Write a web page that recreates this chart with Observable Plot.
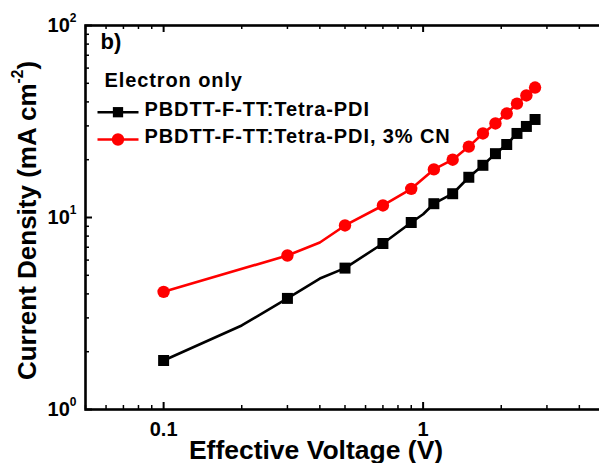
<!DOCTYPE html>
<html><head><meta charset="utf-8">
<script src="https://cdn.jsdelivr.net/npm/d3@7"></script>
<script src="https://cdn.jsdelivr.net/npm/@observablehq/plot@0.6"></script>
<style>html,body{margin:0;padding:0;background:#fff;overflow:hidden}</style>
</head><body><div id="chart"></div>
<script>
// ---- data ----
const seriesNames = ["PBDTT-F-TT:Tetra-PDI", "PBDTT-F-TT:Tetra-PDI, 3% CN"];
const seriesColors = ["#000000", "#ff0000"];
const blackV = [0.1, 0.2, 0.3, 0.4, 0.5, 0.7, 0.9, 1.0, 1.1, 1.3, 1.5, 1.7, 1.9, 2.1, 2.3, 2.5, 2.7];
const blackJ = [1.80, 2.74, 3.79, 4.81, 5.45, 7.32, 9.42, 10.4, 11.8, 13.3, 16.2, 18.7, 21.5, 24.0, 27.4, 29.8, 32.4];
const redV = [0.1, 0.3, 0.4, 0.5, 0.7, 0.9, 1.1, 1.3, 1.5, 1.7, 1.9, 2.1, 2.3, 2.5, 2.7];
const redJ = [4.1, 6.34, 7.41, 9.09, 11.55, 14.1, 17.8, 20.0, 23.4, 27.4, 30.9, 34.8, 39.2, 43.2, 47.5];
const xMajorTicks = [0.1, 1];
const xTickLabels = ["0.1", "1"];
const xMinorTicks = [0.05, 0.06, 0.07, 0.08, 0.09, 0.2, 0.3, 0.4, 0.5, 0.6, 0.7, 0.8, 0.9, 2, 3, 4, 5];
const yMajorTicks = [1, 10, 100];
const yTickLabels = ["10^0", "10^1", "10^2"];
const yMinorTicks = [2, 3, 4, 5, 6, 7, 8, 9, 20, 30, 40, 50, 60, 70, 80, 90];
const xLabel = "Effective Voltage (V)";
const yLabel = "Current Density (mA cm^-2)";
const panelLabel = "b)";
const legendTitle = "Electron only";

// ---- layout ----
const W = 599, H = 463, mL = 85, mT = 25, mB = 54, mR = -5;
const plotH = H - mT - mB, plotW = W - mL - mR;
const FONT = "'Liberation Sans', Arial, Helvetica, sans-serif";

const rows = [
  ...blackV.map((v, i) => ({v, j: blackJ[i], s: seriesNames[0]})),
  ...redV.map((v, i) => ({v, j: redJ[i], s: seriesNames[1]}))
];
const isMarked = d => Math.round(d.v * 10) % 2 === 1;
const lineSymbol = {draw(ctx) { ctx.moveTo(-20.5, 0); ctx.lineTo(20.5, 0); }};
const legendRowsDy = [86.7, 114];

const svg = Plot.plot({
  width: W, height: H,
  marginLeft: mL, marginTop: mT, marginBottom: mB, marginRight: mR,
  style: {fontFamily: FONT, fontWeight: "bold", background: "#fff", color: "#000", overflow: "hidden"},
  x: {type: "log", domain: [0.05, 5], axis: null},
  y: {type: "log", domain: [1, 100], axis: null},
  color: {domain: seriesNames, range: seriesColors},
  marks: [
    // data
    Plot.line(rows, {x: "v", y: "j", z: "s", stroke: "s", strokeWidth: 2.6, curve: "linear", strokeLinejoin: "round"}),
    Plot.dot(rows.filter(d => d.s === seriesNames[0] && isMarked(d)), {x: "v", y: "j", symbol: "square", r: 6.2, fill: "s", stroke: null}),
    Plot.dot(rows.filter(d => d.s === seriesNames[1] && isMarked(d)), {x: "v", y: "j", symbol: "circle", r: 6.2, fill: "s", stroke: null}),
    // inward ticks: bottom & top
    Plot.tickX(xMinorTicks, {x: d => d, insetTop: plotH - 4, stroke: "#000", strokeWidth: 1.5}),
    Plot.tickX(xMajorTicks, {x: d => d, insetTop: plotH - 7, stroke: "#000", strokeWidth: 2}),
    Plot.tickX(xMinorTicks, {x: d => d, insetBottom: plotH - 4, stroke: "#000", strokeWidth: 1.5}),
    Plot.tickX(xMajorTicks, {x: d => d, insetBottom: plotH - 7, stroke: "#000", strokeWidth: 2}),
    // inward ticks: left
    Plot.tickY(yMinorTicks, {y: d => d, insetRight: plotW - 4, stroke: "#000", strokeWidth: 1.5}),
    Plot.tickY(yMajorTicks, {y: d => d, insetRight: plotW - 7, stroke: "#000", strokeWidth: 2}),
    Plot.frame({stroke: "#000", strokeWidth: 2.6}),
    // tick labels
    Plot.axisX({ticks: xMajorTicks, tickSize: 0, tickPadding: 12, fontSize: 20, label: null,
      tickFormat: d => xTickLabels[xMajorTicks.indexOf(d)]}),
    Plot.axisY({ticks: yMajorTicks, tickSize: 0, tickPadding: 9, fontSize: 20, label: null,
      tickFormat: d => yTickLabels[yMajorTicks.indexOf(d)]}),
    // axis titles
    Plot.text([xLabel], {text: d => d, frameAnchor: "bottom", textAnchor: "middle", lineAnchor: "top", dx: -29, dy: 31, fontSize: 26.5, fontWeight: "bold"}),
    Plot.text([yLabel], {text: d => d, frameAnchor: "left", textAnchor: "middle", rotate: -90, lineAnchor: "middle", dx: -57.5, dy: 3, fontSize: 26, fontWeight: "bold"}),
    // panel label & legend
    Plot.text([panelLabel], {text: d => d, frameAnchor: "top-left", textAnchor: "start", lineAnchor: "middle", dx: 15, dy: 16.5, fontSize: 22, fontWeight: "bold"}),
    Plot.text([legendTitle], {text: d => d, frameAnchor: "top-left", textAnchor: "start", lineAnchor: "middle", dx: 19, dy: 54.7, fontSize: 20, fontWeight: "bold", className: "legend-text"}),
    Plot.dot([seriesNames[0]], {frameAnchor: "top-left", dx: 32.5, dy: legendRowsDy[0], symbol: lineSymbol, stroke: d => d, strokeWidth: 2.6, fill: "none"}),
    Plot.dot([seriesNames[0]], {frameAnchor: "top-left", dx: 32.5, dy: legendRowsDy[0], symbol: "square", r: 5.8, fill: d => d, stroke: null}),
    Plot.dot([seriesNames[1]], {frameAnchor: "top-left", dx: 32.5, dy: legendRowsDy[1], symbol: lineSymbol, stroke: d => d, strokeWidth: 2.6, fill: "none"}),
    Plot.dot([seriesNames[1]], {frameAnchor: "top-left", dx: 32.5, dy: legendRowsDy[1], symbol: "circle", r: 6.2, fill: d => d, stroke: null}),
    Plot.text([seriesNames[0]], {text: d => d, frameAnchor: "top-left", textAnchor: "start", lineAnchor: "middle", dx: 59, dy: legendRowsDy[0] - 3, fontSize: 20, fontWeight: "bold", className: "legend-text"}),
    Plot.text([seriesNames[1]], {text: d => d, frameAnchor: "top-left", textAnchor: "start", lineAnchor: "middle", dx: 59, dy: legendRowsDy[1] - 3, fontSize: 20, fontWeight: "bold", className: "legend-text"})
  ]
});

document.getElementById("chart").appendChild(svg);

// slightly wider legend lettering, as in the reference
d3.select(svg).selectAll("g.legend-text text, .legend-text text").attr("letter-spacing", "0.9").style("letter-spacing", "0.9px");

// superscripts: "a^b" -> a<sup>b</sup>
d3.select(svg).selectAll("text").each(function() {
  const t = this.textContent;
  const m = t.match(/^(.*)\^(-?\d+)(.*)$/);
  if (!m) return;
  const fs = parseFloat(getComputedStyle(this).fontSize) || 20;
  const el = d3.select(this);
  el.text(null);
  el.append("tspan").text(m[1]);
  el.append("tspan").attr("dy", -0.5 * fs).attr("font-size", 0.6 * fs).text(m[2]);
  if (m[3]) el.append("tspan").attr("dy", 0.5 * fs).text(m[3]);
});
</script></body></html>
